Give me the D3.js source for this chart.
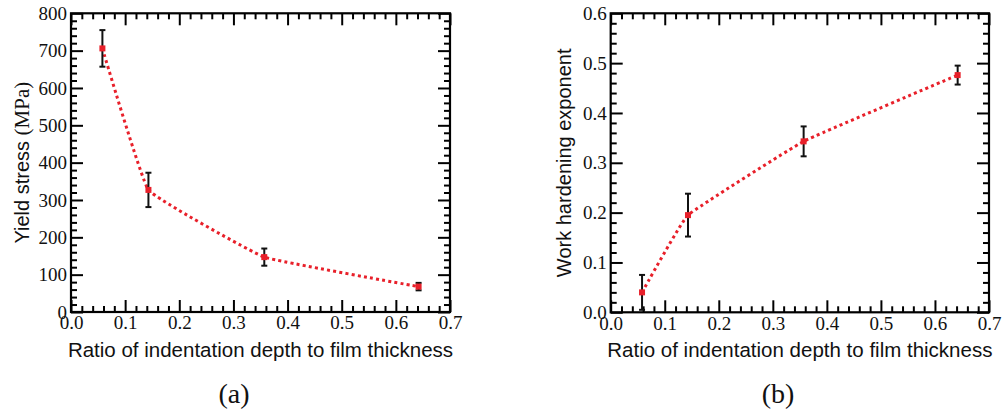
<!DOCTYPE html>
<html><head><meta charset="utf-8">
<script src="https://cdn.jsdelivr.net/npm/d3@7"></script>
<style>body{margin:0;background:#fff}svg{display:block}</style>
</head><body>
<svg id="c" width="1002" height="415"></svg>
<script>
// Data
const ratio = [0.058, 0.143, 0.357, 0.642];
const yieldStress = [706, 327, 147, 68];
const yieldErr = [49, 46, 23, 10];
const hardening = [0.040, 0.195, 0.343, 0.476];
const hardeningErr = [0.035, 0.043, 0.030, 0.019];
const xTicks = [0, 0.1, 0.2, 0.3, 0.4, 0.5, 0.6, 0.7];
const yTicksA = [0, 100, 200, 300, 400, 500, 600, 700, 800];
const yTicksB = [0, 0.1, 0.2, 0.3, 0.4, 0.5, 0.6];
const xTitle = "Ratio of indentation depth to film thickness";

const svg = d3.select("#c");
const RED = "#e8202a";
const SERIF = "'Liberation Serif', 'DejaVu Serif', serif";
const SANS = "'Liberation Sans', Arial, sans-serif";

function panel(opt) {
  const g = svg.append("g");
  const x = d3.scaleLinear().domain([0, 0.7]).range([opt.left, opt.right]);
  const y = d3.scaleLinear().domain(opt.yDomain).range([opt.bottom, opt.top]);
  const xMinor = d3.range(0, 71, 2).map(d => d / 100).filter(d => !xTicks.some(t => Math.abs(t - d) < 1e-9));
  const yStep = opt.yMinorStep;
  const nMinor = Math.round((opt.yDomain[1] - opt.yDomain[0]) / yStep);
  const yMinor = d3.range(0, nMinor + 1).map(i => opt.yDomain[0] + i * yStep).filter(d => !opt.yTicks.some(t => Math.abs(t - d) < 1e-9));

  const tickStyle = sel => {
    sel.select(".domain").remove();
    sel.selectAll("line").attr("stroke", "#000").attr("stroke-width", 2);
    sel.selectAll("text").attr("font-family", SERIF).attr("font-size", 19).attr("fill", "#111");
  };
  g.append("g").attr("transform", `translate(0,${opt.bottom})`)
    .call(d3.axisBottom(x).tickValues(xTicks).tickSize(-12).tickPadding(4).tickFormat(d3.format(".1f"))).call(tickStyle);
  g.append("g").attr("transform", `translate(${opt.left},0)`)
    .call(d3.axisLeft(y).tickValues(opt.yTicks).tickSize(-12).tickPadding(4).tickFormat(opt.yFormat)).call(tickStyle);
  g.append("g").attr("transform", `translate(0,${opt.top})`)
    .call(d3.axisTop(x).tickValues(xTicks).tickSize(-12).tickFormat("")).call(tickStyle);
  g.append("g").attr("transform", `translate(${opt.right},0)`)
    .call(d3.axisRight(y).tickValues(opt.yTicks).tickSize(-12).tickFormat("")).call(tickStyle);
  g.append("g").attr("transform", `translate(0,${opt.bottom})`)
    .call(d3.axisBottom(x).tickValues(xMinor).tickSize(-6).tickFormat("")).call(tickStyle);
  g.append("g").attr("transform", `translate(0,${opt.top})`)
    .call(d3.axisTop(x).tickValues(xMinor).tickSize(-6).tickFormat("")).call(tickStyle);
  g.append("g").attr("transform", `translate(${opt.left},0)`)
    .call(d3.axisLeft(y).tickValues(yMinor).tickSize(-6).tickFormat("")).call(tickStyle);
  g.append("g").attr("transform", `translate(${opt.right},0)`)
    .call(d3.axisRight(y).tickValues(yMinor).tickSize(-6).tickFormat("")).call(tickStyle);

  g.append("rect").attr("x", opt.left).attr("y", opt.top)
    .attr("width", opt.right - opt.left).attr("height", opt.bottom - opt.top)
    .attr("fill", "none").attr("stroke", "#000").attr("stroke-width", 2.2);

  const pts = ratio.map((r, i) => ({x: r, y: opt.values[i], e: opt.errs[i]}));

  g.append("path").datum(pts)
    .attr("d", d3.line().x(d => x(d.x)).y(d => y(d.y)).curve(d3.curveCardinal.tension(0.75)))
    .attr("fill", "none").attr("stroke", RED).attr("stroke-width", 3).attr("stroke-dasharray", "3,3.2");

  const eb = g.append("g").attr("stroke", "#111").attr("stroke-width", 2);
  pts.forEach(d => {
    eb.append("line").attr("x1", x(d.x)).attr("x2", x(d.x)).attr("y1", y(d.y - d.e)).attr("y2", y(d.y + d.e));
    eb.append("line").attr("x1", x(d.x) - 3).attr("x2", x(d.x) + 3).attr("y1", y(d.y - d.e)).attr("y2", y(d.y - d.e));
    eb.append("line").attr("x1", x(d.x) - 3).attr("x2", x(d.x) + 3).attr("y1", y(d.y + d.e)).attr("y2", y(d.y + d.e));
  });
  g.selectAll("rect.m").data(pts).join("rect").attr("class", "m")
    .attr("x", d => x(d.x) - 3).attr("y", d => y(d.y) - 3)
    .attr("width", 6).attr("height", 6).attr("fill", RED);

  g.append("text").attr("x", (opt.left + opt.right) / 2 + opt.xTitleDx).attr("y", 356.5)
    .attr("text-anchor", "middle").attr("font-family", SANS)
    .attr("font-size", 20.5).attr("fill", "#111").text(xTitle);
  const yt = g.append("text").attr("transform", `translate(${opt.yTitleX},${(opt.top + opt.bottom) / 2}) rotate(-90)`)
    .attr("text-anchor", "middle").attr("font-family", SANS)
    .attr("font-size", 20).attr("fill", "#111");
  yt.append("tspan").text(opt.yTitle);
  if (opt.yUnit) yt.append("tspan").attr("font-family", SERIF).attr("font-size", 21).text(opt.yUnit);
  g.append("text").attr("x", opt.captionX).attr("y", 403)
    .attr("text-anchor", "middle").attr("font-family", SERIF)
    .attr("font-size", 28).attr("fill", "#111").text(opt.caption);
}

panel({left: 71, right: 450, top: 13.3, bottom: 312, yDomain: [0, 800], yTicks: yTicksA, yMinorStep: 20,
  yFormat: d3.format("d"), values: yieldStress, errs: yieldErr, yTitle: "Yield stress ", yUnit: "(MPa)", yTitleX: 29,
  caption: "(a)", captionX: 234, xTitleDx: 0});
panel({left: 610.7, right: 989, top: 13.3, bottom: 312.3, yDomain: [0, 0.6], yTicks: yTicksB, yMinorStep: 0.02,
  yFormat: d3.format(".1f"), values: hardening, errs: hardeningErr, yTitle: "Work hardening exponent", yUnit: null, yTitleX: 571,
  caption: "(b)", captionX: 778, xTitleDx: 0});
</script>
</body></html>
